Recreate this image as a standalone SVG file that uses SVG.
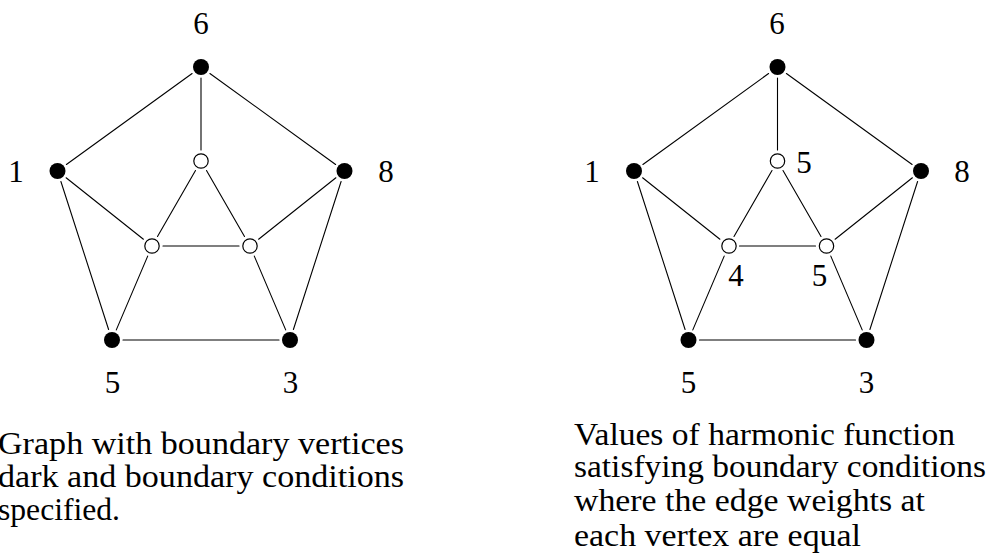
<svg xmlns="http://www.w3.org/2000/svg" width="989" height="555" viewBox="0 0 989 555">
<style>
.e{stroke:#000;stroke-width:1.1;fill:none;stroke-linecap:round}
.b{fill:#000}
.w{fill:#fff;stroke:#000;stroke-width:1.2}
.t{font-family:"Liberation Serif","Times New Roman",serif;font-size:31px;fill:#000}
.l{text-anchor:middle}
.c{font-family:"Liberation Serif","Times New Roman",serif;font-size:31px;fill:#000}
</style>
<defs>
<g id="edges">
<line class="e" x1="192.1" y1="73.5" x2="66.4" y2="164.5"/>
<line class="e" x1="209.9" y1="73.5" x2="335.6" y2="164.5"/>
<line class="e" x1="201" y1="78" x2="201" y2="150"/>
<line class="e" x1="60.9" y1="181.5" x2="108.6" y2="329.5"/>
<line class="e" x1="341.1" y1="181.5" x2="293.4" y2="329.5"/>
<line class="e" x1="123" y1="340" x2="279" y2="340"/>
<line class="e" x1="66.1" y1="177.8" x2="143.4" y2="239.2"/>
<line class="e" x1="335.9" y1="177.8" x2="258.6" y2="239.2"/>
<line class="e" x1="116.3" y1="329.9" x2="147.7" y2="256.1"/>
<line class="e" x1="285.7" y1="329.9" x2="254.3" y2="256.1"/>
<line class="e" x1="195.5" y1="170.5" x2="157.5" y2="236.5"/>
<line class="e" x1="206.5" y1="170.5" x2="244.5" y2="236.5"/>
<line class="e" x1="163" y1="246" x2="239" y2="246"/>
</g>
</defs>
<g id="connectors">
<use href="#edges"/>
<use href="#edges" transform="translate(576.5,0)"/>
</g>
<g id="left-graph">
<g id="L6"><circle class="b" cx="201" cy="67" r="8"/><text class="t l" x="201" y="34">6</text></g>
<g id="L1"><circle class="b" cx="57.5" cy="171" r="8"/><text class="t l" x="16" y="182">1</text></g>
<g id="L8"><circle class="b" cx="344.5" cy="171" r="8"/><text class="t l" x="386" y="182">8</text></g>
<g id="L5"><circle class="b" cx="112" cy="340" r="8"/><text class="t l" x="112.5" y="393">5</text></g>
<g id="L3"><circle class="b" cx="290" cy="340" r="8"/><text class="t l" x="290.5" y="393">3</text></g>
<g id="Lit"><circle class="w" cx="201" cy="161" r="7.2"/></g>
<g id="Lil"><circle class="w" cx="152" cy="246" r="7.2"/></g>
<g id="Lir"><circle class="w" cx="250" cy="246" r="7.2"/></g>
</g>
<g id="right-graph">
<g id="R6"><circle class="b" cx="777.5" cy="67" r="8"/><text class="t l" x="777" y="34">6</text></g>
<g id="R1"><circle class="b" cx="634" cy="171" r="8"/><text class="t l" x="592" y="182">1</text></g>
<g id="R8"><circle class="b" cx="921" cy="171" r="8"/><text class="t l" x="962" y="182">8</text></g>
<g id="R5"><circle class="b" cx="688.5" cy="340" r="8"/><text class="t l" x="688.5" y="393">5</text></g>
<g id="R3"><circle class="b" cx="866.5" cy="340" r="8"/><text class="t l" x="866.5" y="393">3</text></g>
<g id="Rit"><circle class="w" cx="777.5" cy="161" r="7.2"/><text class="t l" x="804" y="173">5</text></g>
<g id="Ril"><circle class="w" cx="729" cy="246" r="7.2"/><text class="t l" x="736" y="286">4</text></g>
<g id="Rir"><circle class="w" cx="826.5" cy="246" r="7.2"/><text class="t l" x="819.5" y="286">5</text></g>
</g>
<g id="captions">
<text class="c" x="-2" y="454" textLength="406" lengthAdjust="spacingAndGlyphs">Graph with boundary vertices</text>
<text class="c" x="-2" y="487" textLength="406" lengthAdjust="spacingAndGlyphs">dark and boundary conditions</text>
<text class="c" x="-2" y="520" textLength="122" lengthAdjust="spacingAndGlyphs">specified.</text>
<text class="c" x="574" y="445" textLength="381" lengthAdjust="spacingAndGlyphs">Values of harmonic function</text>
<text class="c" x="574" y="477" textLength="412" lengthAdjust="spacingAndGlyphs">satisfying boundary conditions</text>
<text class="c" x="574" y="511" textLength="351" lengthAdjust="spacingAndGlyphs">where the edge weights at</text>
<text class="c" x="574" y="546" textLength="287" lengthAdjust="spacingAndGlyphs">each vertex are equal</text>
</g>
</svg>
